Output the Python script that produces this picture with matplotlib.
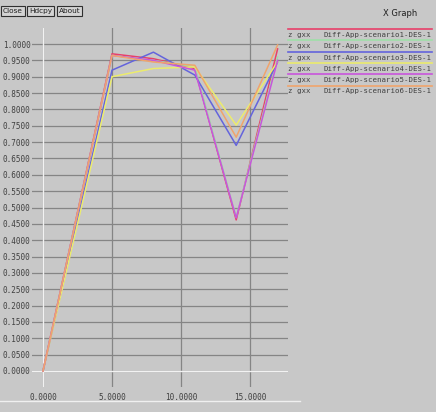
import matplotlib
matplotlib.use("Agg")
import matplotlib.pyplot as plt
from matplotlib.lines import Line2D

# ---- data ----
x_vals = [0, 5, 8, 11, 14, 17]
series_names = ["Diff-App-scenario1-DES-1", "Diff-App-scenario2-DES-1",
                "Diff-App-scenario3-DES-1", "Diff-App-scenario4-DES-1",
                "Diff-App-scenario5-DES-1", "Diff-App-scenario6-DES-1"]
s1 = [0.0, 0.970, 0.955, 0.925, 0.462, 0.985]
s2 = [0.0, 0.965, 0.950, 0.930, 0.470, 0.960]
s3 = [0.0, 0.920, 0.975, 0.905, 0.690, 0.945]
s4 = [0.0, 0.900, 0.925, 0.930, 0.752, 0.946]
s5 = [0.0, 0.965, 0.950, 0.920, 0.468, 0.950]
s6 = [0.0, 0.965, 0.945, 0.935, 0.715, 0.997]
series = [s1, s2, s3, s4, s5, s6]
colors = ["#e8406a", "#9fdfa8", "#6464dc", "#ecec6c", "#c855dc", "#f0a46c"]
x_ticks = [0, 5, 10, 15]
x_tick_labels = ["0.0000", "5.0000", "10.0000", "15.0000"]
y_ticks = [i * 0.05 for i in range(21)]
y_tick_labels = ["%.4f" % v for v in y_ticks]

W, H = 436, 412
BG = "#c8c8c8"
fig = plt.figure(figsize=(W / 100, H / 100), dpi=100, facecolor=BG)

# axes box in pixels
L, R, T, B = 32, 288, 28, 387
ax = fig.add_axes([L / W, 1 - B / H, (R - L) / W, (B - T) / H], facecolor=BG)
px_x = 13.8
px_y = 327.0
x0p, y0p = 43, 371
ax.set_xlim((L - x0p) / px_x, (R - x0p) / px_x)
ax.set_ylim(-(B - y0p) / px_y, (y0p - T) / px_y)

for sp in ax.spines.values():
    sp.set_visible(False)

ax.set_yticks(y_ticks)
ax.set_yticklabels(y_tick_labels)
ax.set_xticks(x_ticks)
ax.set_xticklabels(x_tick_labels)
ax.tick_params(length=0, labelsize=5.5, colors="#404040", pad=1)
ax.tick_params(axis="x", pad=4)
for lab in ax.get_yticklabels() + ax.get_xticklabels():
    lab.set_family("DejaVu Sans Mono")

ax.grid(True, color="#858585", linewidth=0.9)
ax.set_axisbelow(True)
ax.axhline(0, color="#f2f2f2", linewidth=1.0, zorder=1.5)
ax.axvline(0, color="#f2f2f2", linewidth=1.0, zorder=1.5)

for k, ys in enumerate(series):
    ax.plot(x_vals, ys, color=colors[k], linewidth=1.1, zorder=3 + k * 0.01)

# legend (manual, X Graph style)
row0 = 29
step = 11.3
for i, name in enumerate(series_names):
    ly = row0 + i * step
    fig.add_artist(Line2D([288 / W, 432 / W], [1 - ly / H, 1 - ly / H],
                          color=colors[i], linewidth=1.2))
    fig.text(288 / W, 1 - (ly + 6) / H, "z gxx", fontsize=5.3,
             family="DejaVu Sans Mono", color="#404040", va="center")
    fig.text(323 / W, 1 - (ly + 6) / H, name, fontsize=5.3,
             family="DejaVu Sans Mono", color="#404040", va="center")

# title and buttons
fig.text(383 / W, 1 - 13 / H, "X Graph", fontsize=6, color="#202020",
         va="center", ha="left")
for lbl, xb in [("Close", 3), ("Hdcpy", 29), ("About", 59)]:
    fig.text(xb / W, 1 - 11 / H, lbl, fontsize=5.3, color="#202020",
             va="center", ha="left",
             bbox=dict(boxstyle="square,pad=0.25", fc="#d4d4d4", ec="#303030", lw=0.8))

# bottom border line
fig.add_artist(Line2D([0, 300 / W], [1 - 401 / H, 1 - 401 / H], color="#f0f0f0", linewidth=1))

fig.savefig("out.png", dpi=100, facecolor=BG)
